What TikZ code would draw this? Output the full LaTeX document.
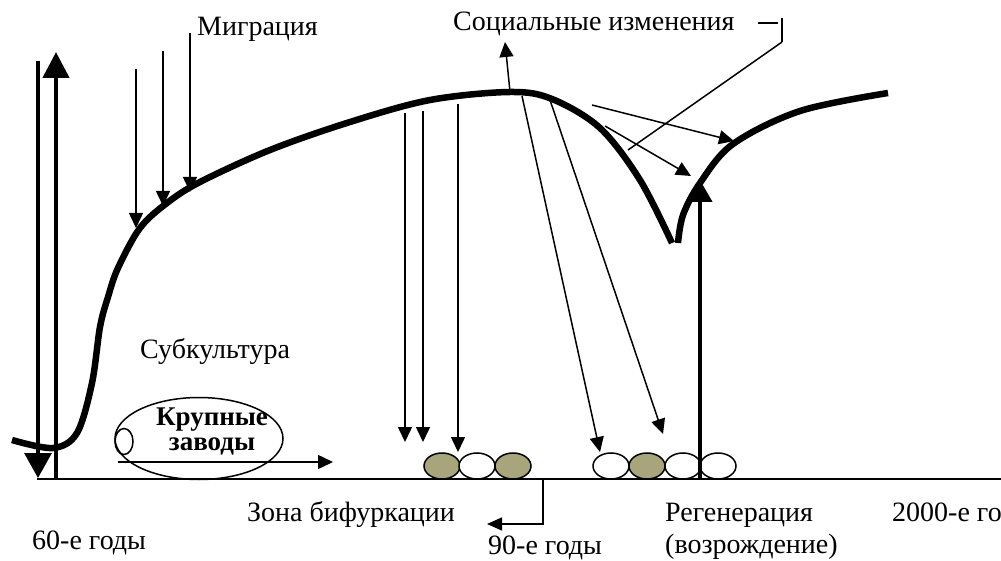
\documentclass[tikz,border=0pt]{standalone}
\usepackage{fontspec}
\setmainfont{Liberation Serif}
\usetikzlibrary{arrows.meta}
\definecolor{ballfill}{RGB}{168,164,124}
\tikzset{
  lbl/.style={font=\fontsize{28}{31}\selectfont, inner sep=0pt, anchor=base west},
  thinarr/.style={line width=1.5pt, -{Triangle[length=15pt,width=14pt]}},
  mainline/.style={line width=6.5pt, line cap=butt},
  thinline/.style={line width=1.5pt},
}
\begin{document}
\begin{tikzpicture}[x=1pt,y=-1pt]
\useasboundingbox (0,0) rectangle (1001,561);
% axis
\coordinate (ax0) at (37,479);
\coordinate (ax1) at (1001,479);
\draw[line width=2pt] (ax0) -- (ax1);
% left vertical arrows
\coordinate (ld0) at (38,61);
\coordinate (ld1) at (38,478);
\draw[line width=3.3pt, -{Triangle[length=25pt,width=27pt]}] (ld0) -- (ld1);
\coordinate (lu0) at (56,479);
\coordinate (lu1) at (56,52);
\draw[line width=4.5pt, -{Triangle[length=26pt,width=26pt]}] (lu0) -- (lu1);
% main curve
\draw[mainline] plot[smooth, tension=0.55] coordinates {(12,440) (53,448) (77,433) (92,383) (100,327) (108,297) (118,268) (140,228) (167,203) (200,182) (270,150) (350,122) (430,100) (510,92) (552,99) (600,128) (640,180) (672,243)};
\draw[mainline] plot[smooth, tension=0.55] coordinates {(678,243) (683,215) (700,183) (733,144) (800,111) (888,93)};
% migration arrows
\node[lbl] (mig) at (197,36) {Миграция};
\coordinate (m1a) at (136,69);  \coordinate (m1b) at (136,228);
\coordinate (m2a) at (163,51);  \coordinate (m2b) at (163,206);
\coordinate (m3a) at (190,33);  \coordinate (m3b) at (190,192);
\draw[thinarr] (m1a) -- (m1b);
\draw[thinarr] (m2a) -- (m2b);
\draw[thinarr] (m3a) -- (m3b);
% social changes
\node[lbl] (soc) at (453,31) {Социальные изменения};
\coordinate (dashA) at (758,23); \coordinate (dashB) at (778,23);
\draw[thinline] (dashA) -- (dashB);
\coordinate (barA) at (782,18); \coordinate (barB) at (782,42);
\draw[thinline] (barA) -- (barB);
\coordinate (socend) at (628,150);
\draw[thinline] (barB) -- (socend);
% arrow up from peak
\coordinate (pk) at (510,92); \coordinate (pkup) at (505,42);
\draw[thinarr] (pk) -- (pkup);
% arrows to the right branch
\coordinate (r1a) at (592,105); \coordinate (r1b) at (734,141);
\coordinate (r2a) at (605,126); \coordinate (r2b) at (691,176);
\draw[thinarr] (r1a) -- (r1b);
\draw[thinarr] (r2a) -- (r2b);
% vertical down arrows
\coordinate (d1a) at (405,113); \coordinate (d1b) at (405,442);
\coordinate (d2a) at (423,111); \coordinate (d2b) at (423,442);
\coordinate (d3a) at (458,104); \coordinate (d3b) at (458,452);
\draw[thinarr] (d1a) -- (d1b);
\draw[thinarr] (d2a) -- (d2b);
\draw[thinarr] (d3a) -- (d3b);
% diagonal down arrows
\coordinate (g1a) at (522,96); \coordinate (g1b) at (600,452);
\coordinate (g2a) at (550,100); \coordinate (g2b) at (663,434);
\draw[thinarr] (g1a) -- (g1b);
\draw[thinarr] (g2a) -- (g2b);
% balls
\foreach \cx/\f in {442/ballfill, 477/white, 513/ballfill, 611/white, 647/ballfill, 683/white, 718/white}{
  \draw[thinline, fill=\f] (\cx,466) ellipse [x radius=18, y radius=13];
}
% regeneration arrow
\coordinate (rg0) at (700,479); \coordinate (rg1) at (700,180);
\draw[line width=4.3pt, -{Triangle[length=22pt,width=24pt]}] (rg0) -- (rg1);
% bifurcation marker
\coordinate (bf0) at (543,479); \coordinate (bf1) at (543,524); \coordinate (bf2) at (487,524);
\draw[line width=1.5pt, -{Triangle[length=15pt,width=13pt]}] (bf0) -- (bf1) -- (bf2);
% big ellipse
\draw[thinline] (199,438.5) ellipse [x radius=84, y radius=41];
\draw[thinline] (124,441.5) ellipse [x radius=9, y radius=13];
\coordinate (fa) at (118,462); \coordinate (fb) at (333,462);
\draw[thinarr] (fa) -- (fb);
\node[font=\fontsize{27}{25}\selectfont\bfseries, align=center, inner sep=0pt, anchor=base] (plants) at (212,450) {Крупные\\заводы};
% labels
\node[lbl] (sub) at (140,358) {Субкультура};
\node[lbl] (zone) at (247,521) {Зона бифуркации};
\node[lbl] (y60) at (32,549) {60-е годы};
\node[lbl] (y90) at (488,554) {90-е годы};
\node[lbl] (reg) at (665,521) {Регенерация};
\node[lbl] (voz) at (665,553) {(возрождение)};
\node[lbl] (y2000) at (892,521) {2000-е го};
\end{tikzpicture}
\end{document}
